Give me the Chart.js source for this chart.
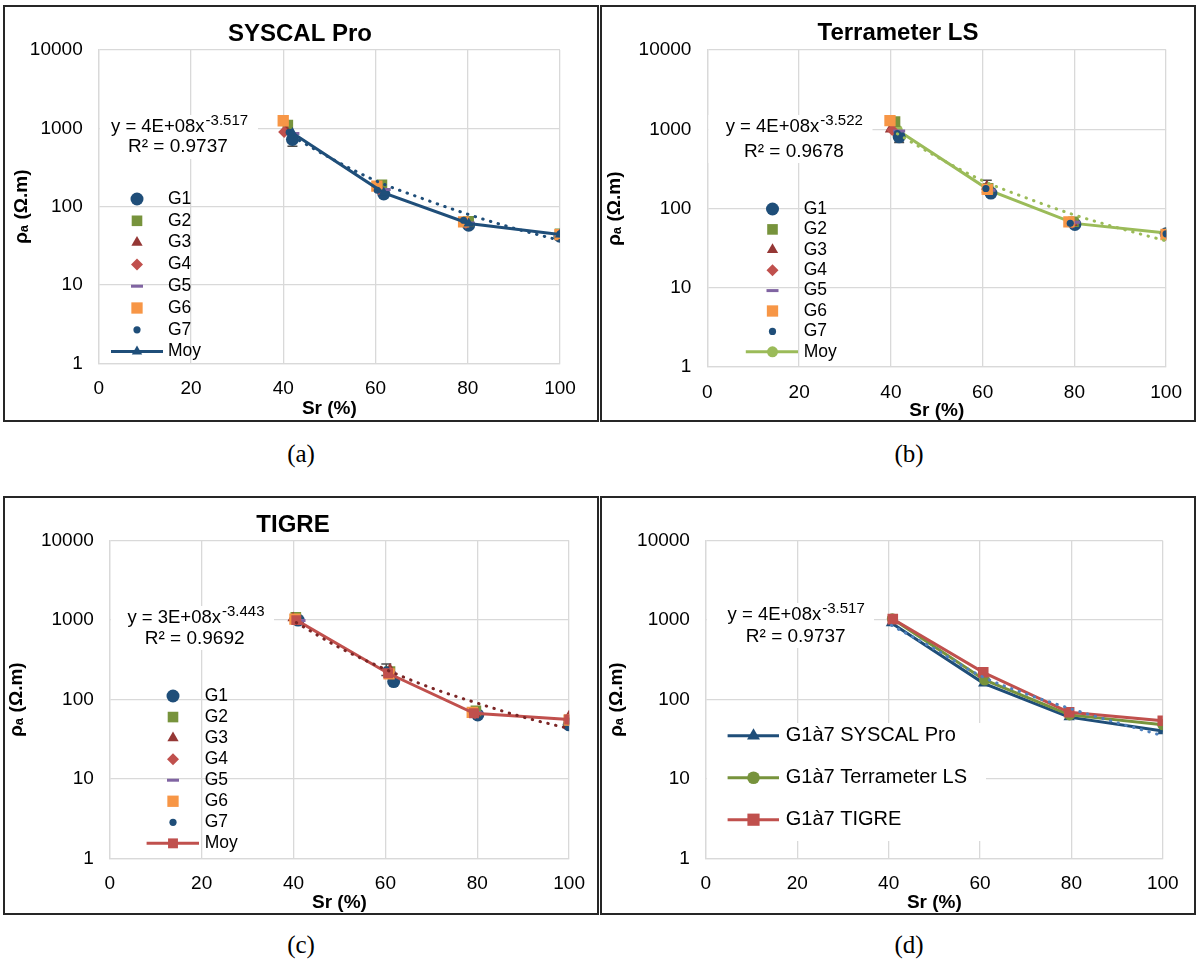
<!DOCTYPE html>
<html>
<head>
<meta charset="utf-8">
<script src="https://cdn.jsdelivr.net/npm/chart.js@4.4.1/dist/chart.umd.min.js"></script>
<style>
  body { margin: 0; background: #fff; width: 1197px; height: 967px; position: relative; overflow: hidden; }
  canvas { position: absolute; }
  .box { position: absolute; border: 2px solid #262626; box-sizing: border-box; pointer-events: none; }
  .cap { position: absolute; width: 80px; text-align: center; font-family: 'Liberation Serif', 'Times New Roman', serif; font-size: 25px; color: #000; }
</style>
</head>
<body>
<canvas id="ca" width="596" height="417" style="left:3px;top:5px"></canvas>
<canvas id="cb" width="596" height="417" style="left:600px;top:5px"></canvas>
<canvas id="cc" width="596" height="419" style="left:3px;top:496px"></canvas>
<canvas id="cd" width="596" height="419" style="left:600px;top:496px"></canvas>
<div class="box" style="left:3px;top:5px;width:596px;height:417px"></div>
<div class="box" style="left:600px;top:5px;width:596px;height:417px"></div>
<div class="box" style="left:3px;top:496px;width:596px;height:419px"></div>
<div class="box" style="left:600px;top:496px;width:596px;height:419px"></div>
<div class="cap" style="left:261px;top:440px">(a)</div>
<div class="cap" style="left:869px;top:440px">(b)</div>
<div class="cap" style="left:261px;top:931px">(c)</div>
<div class="cap" style="left:869px;top:931px">(d)</div>
<script>
const FONT = "'Liberation Sans', Arial, Helvetica, sans-serif";

// axis ticks
const srTicks = [0, 20, 40, 60, 80, 100];
const rhoTicks = [1, 10, 100, 1000, 10000];
const groupNames = ['G1', 'G2', 'G3', 'G4', 'G5', 'G6', 'G7'];

// (a) SYSCAL Pro - Sr (%) and rho_a (ohm.m) per group
const sysG1x = [42, 61.8, 80.2, 100];   const sysG1 = [720, 145, 58, 42];
const sysG2x = [41, 61.4, 80.2, 100];   const sysG2 = [1100, 190, 65, 45];
const sysG3x = [40.6, 61, 80, 100];     const sysG3 = [950, 168, 62, 43];
const sysG4x = [40.2, 60.8, 79.6, 100]; const sysG4 = [900, 165, 62, 43];
const sysG5x = [42.2, 62, 80.2, 100];   const sysG5 = [860, 166, 62, 44];
const sysG6x = [40, 60.3, 79.1, 100];   const sysG6 = [1250, 183, 64, 44];
const sysG7x = [41.3, 60.4, 79.1, 100]; const sysG7 = [890, 162, 67, 45];
const sysMoyX = [42, 61.8, 80.2, 100];  const sysMoy = [870, 150, 61, 44];
const sysTrendX = [42, 50, 60, 70, 80, 90, 100];
const sysTrend = [790, 425, 215, 128, 80, 53, 37];
const sysErrX = [42];   const sysErrLo = [590];   const sysErrHi = [880];

// (b) Terrameter LS
const terG1x = [41.8, 61.8, 80.1, 100]; const terG1 = [805, 157, 63, 48];
const terG2x = [40.9, 61.2, 79.8, 100]; const terG2 = [1250, 180, 68, 47];
const terG3x = [39.9, 60.9, 79.5, 100]; const terG3 = [1000, 191, 66, 45];
const terG4x = [40.3, 61, 79.5, 100];   const terG4 = [980, 175, 66, 46];
const terG5x = [41.8, 61.5, 80, 100];   const terG5 = [950, 170, 67, 47];
const terG6x = [39.8, 61, 78.8, 100];   const terG6 = [1285, 175, 68, 47];
const terG7x = [41.4, 60.7, 79.1, 100]; const terG7 = [880, 179, 65, 48];
const terMoyX = [41.4, 61.5, 80, 100];  const terMoy = [980, 170, 65, 49];
const terTrendX = [41.4, 50, 60, 70, 80, 90, 100];
const terTrend = [880, 450, 225, 133, 83, 56, 39];
const terErrX = [41.8, 60.9]; const terErrLo = [680, 160]; const terErrHi = [950, 228];

// (c) TIGRE
const tigG1x = [41, 61.8, 80.1, 100];   const tigG1 = [1000, 168, 64, 48];
const tigG2x = [40.5, 61, 79.7, 100];   const tigG2 = [1085, 225, 72, 55];
const tigG3x = [39.9, 61, 79.5, 100];   const tigG3 = [1060, 240, 67, 62];
const tigG4x = [40.2, 61, 79.5, 100];   const tigG4 = [1020, 220, 67, 56];
const tigG5x = [41.3, 61, 79.8, 100];   const tigG5 = [990, 215, 68, 55];
const tigG6x = [40.3, 60.8, 78.9, 100]; const tigG6 = [1030, 210, 69, 55];
const tigG7x = [40.5, 60.2, 79, 100];   const tigG7 = [1010, 236, 68, 54];
const tigMoyX = [40.6, 60.6, 79.3, 100]; const tigMoy = [1000, 214, 67, 56];
const tigTrendX = [40.6, 50, 60, 70, 80, 90, 100];
const tigTrend = [930, 450, 240, 140, 90, 60, 43];
const tigErrX = [60.2]; const tigErrLo = [200]; const tigErrHi = [280];

// (d) G1 to G7 averages per instrument
const allSysX = [40.6, 60.8, 79.5, 100]; const allSys = [920, 160, 60, 40];
const allTerX = [40.8, 61, 79.6, 100];   const allTer = [1040, 176, 64, 48];
const allTigX = [40.9, 60.7, 79.5, 100]; const allTig = [1030, 220, 69, 54];
const allTrendX = [40.6, 50, 60, 70, 80, 90, 100];
const allTrend = [860, 435, 200, 118, 76, 51, 35];

function pts(xs, ys) { return xs.map((x, i) => ({ x: x, y: ys[i] })); }

const groupStyle = [
  { pointStyle: 'circle', radius: 6.5, color: '#1F4E79', bw: 0 },
  { pointStyle: 'rect', radius: 7.5, color: '#77933C', bw: 0 },
  { pointStyle: 'triangle', radius: 6.5, color: '#953735', bw: 0 },
  { pointStyle: 'rectRot', radius: 6, color: '#C0504D', bw: 0 },
  { pointStyle: 'line', radius: 6, color: '#8064A2', bw: 3 },
  { pointStyle: 'rect', radius: 8, color: '#F79646', bw: 0 },
  { pointStyle: 'circle', radius: 3.6, color: '#1F4E79', bw: 0 }
];

function groupSet(i, xs, ys) {
  const s = groupStyle[i];
  return {
    label: groupNames[i], data: pts(xs, ys), showLine: false,
    pointStyle: s.pointStyle, pointRadius: s.radius, pointHoverRadius: s.radius,
    pointBackgroundColor: s.color, pointBorderColor: s.color, pointBorderWidth: s.bw,
    order: 20 - i
  };
}

function lineSet(label, xs, ys, color, style, radius, order) {
  return {
    label: label, data: pts(xs, ys), showLine: true, borderColor: color, borderWidth: 3,
    pointStyle: style, pointRadius: radius, pointHoverRadius: radius,
    pointBackgroundColor: color, pointBorderColor: color, pointBorderWidth: 0, order: order
  };
}

function trendSet(xs, ys, color) {
  return {
    label: 'trend', data: pts(xs, ys), showLine: true, borderColor: color, borderWidth: 3,
    borderDash: [0.5, 7.5], borderCapStyle: 'round', pointRadius: 0, pointHoverRadius: 0,
    cubicInterpolationMode: 'monotone', order: 1, noLegend: true
  };
}

function makeChart(p) {
  const overlay = {
    id: 'overlay',
    beforeDatasetsDraw(chart) {
      const ctx = chart.ctx;
      const xs = chart.scales.x, ys = chart.scales.y;
      ctx.save();
      // chart title, centred on the panel
      if (p.title) {
        ctx.fillStyle = '#000';
        ctx.textAlign = 'center';
        ctx.textBaseline = 'middle';
        ctx.font = 'bold 24px ' + FONT;
        ctx.fillText(p.title, p.titleX, p.titleY);
      }
      // error bars
      ctx.strokeStyle = '#4d4d4d';
      ctx.lineWidth = 1.5;
      p.err[0].forEach((x, i) => {
        const px = xs.getPixelForValue(x);
        const lo = ys.getPixelForValue(p.err[1][i]);
        const hi = ys.getPixelForValue(p.err[2][i]);
        ctx.beginPath();
        ctx.moveTo(px, lo); ctx.lineTo(px, hi);
        ctx.moveTo(px - 5, lo); ctx.lineTo(px + 5, lo);
        ctx.moveTo(px - 5, hi); ctx.lineTo(px + 5, hi);
        ctx.stroke();
      });
      // trendline equation
      const e = p.eq;
      ctx.fillStyle = '#fff';
      ctx.fillRect(e.box[0], e.box[1], e.box[2], e.box[3]);
      ctx.fillStyle = '#000';
      ctx.textBaseline = 'middle';
      ctx.textAlign = 'left';
      ctx.font = '18.5px ' + FONT;
      ctx.fillText(e.main, e.x1, e.y1);
      const w = ctx.measureText(e.main).width;
      ctx.font = '15px ' + FONT;
      ctx.fillText(e.sup, e.x1 + w + 1, e.y1 - 6);
      ctx.font = '19px ' + FONT;
      ctx.fillText(e.r2, e.x2, e.y2);
      // legend inside plot
      const l = p.leg;
      if (l.box) {
        ctx.fillStyle = '#fff';
        ctx.fillRect(l.box[0], l.box[1], l.box[2], l.box[3]);
      }
      let k = 0;
      chart.data.datasets.forEach(ds => {
        if (ds.noLegend) return;
        const y = l.y0 + k * l.dy;
        k++;
        if (ds.showLine) {
          ctx.strokeStyle = ds.borderColor;
          ctx.lineWidth = ds.borderWidth;
          ctx.beginPath();
          ctx.moveTo(l.lineFrom, y); ctx.lineTo(l.lineTo, y);
          ctx.stroke();
        }
        ctx.fillStyle = ds.pointBackgroundColor;
        ctx.strokeStyle = ds.pointBorderColor;
        ctx.lineWidth = ds.pointBorderWidth;
        Chart.helpers.drawPoint(ctx, {
          pointStyle: ds.pointStyle, radius: ds.pointRadius * (l.scale || 1),
          borderWidth: ds.pointBorderWidth, rotation: 0
        }, l.markerX, y);
        ctx.fillStyle = '#000';
        ctx.font = l.font + 'px ' + FONT;
        ctx.fillText(ds.label, l.textX, y);
      });
      ctx.restore();
    }
  };

  new Chart(document.getElementById(p.canvas), {
    type: 'scatter',
    data: { datasets: p.datasets },
    options: {
      responsive: false,
      animation: false,
      events: [],
      layout: { padding: { left: 0, right: p.w - p.R, top: p.T, bottom: 0 } },
      plugins: {
        legend: { display: false },
        tooltip: { enabled: false },
        title: { display: false }
      },
      scales: {
        x: {
          type: 'linear', min: 0, max: 100,
          afterBuildTicks: s => { s.ticks = srTicks.map(v => ({ value: v })); },
          afterFit: s => { s.height = p.h - p.B; },
          grid: { color: '#D9D9D9', lineWidth: 1.3, drawTicks: false },
          border: { color: '#D9D9D9', width: 1.3 },
          ticks: { color: '#000', padding: 14, font: { family: FONT, size: 19 } },
          title: {
            display: true, text: 'Sr (%)', color: '#000',
            font: { family: FONT, size: 19, weight: 'bold' },
            padding: { top: 0, bottom: p.xTitlePad }
          }
        },
        y: {
          type: 'logarithmic', min: 1, max: 10000,
          afterBuildTicks: s => { s.ticks = rhoTicks.map(v => ({ value: v, major: true })); },
          afterFit: s => { s.width = p.L; },
          grid: { color: '#D9D9D9', lineWidth: 1.3, drawTicks: false },
          border: { color: '#D9D9D9', width: 1.3 },
          ticks: { color: '#000', padding: 16, font: { family: FONT, size: 19 }, callback: v => String(v) },
          title: {
            display: true, text: 'ρₐ (Ω.m)', color: '#000',
            font: { family: FONT, size: 19, weight: 'bold' },
            padding: { top: p.yTitleX - 11.4, bottom: 0 }
          }
        }
      }
    },
    plugins: [overlay]
  });
}

function groupSets(list) { return list.map((g, i) => groupSet(i, g[0], g[1])); }

makeChart({
  canvas: 'ca', w: 596, h: 417, L: 95.7, R: 557, T: 45, B: 358.3,
  title: 'SYSCAL Pro', titleX: 297, titleY: 29, yTitleX: 18.7, xTitlePad: 2,
  datasets: groupSets([[sysG1x, sysG1], [sysG2x, sysG2], [sysG3x, sysG3], [sysG4x, sysG4],
    [sysG5x, sysG5], [sysG6x, sysG6], [sysG7x, sysG7]]).concat([
    lineSet('Moy', sysMoyX, sysMoy, '#1F4E79', 'triangle', 6, 2),
    trendSet(sysTrendX, sysTrend, '#1F4E79')]),
  err: [sysErrX, sysErrLo, sysErrHi],
  eq: { main: 'y = 4E+08x', sup: '-3.517', r2: 'R² = 0.9737', x1: 108, y1: 122, x2: 125, y2: 142, box: [97, 110, 158, 44] },
  leg: { markerX: 134, textX: 165, y0: 194, dy: 21.8, lineFrom: 108, lineTo: 160, font: 17.5 }
});

makeChart({
  canvas: 'cb', w: 596, h: 417, L: 107.4, R: 566.6, T: 45.1, B: 362,
  title: 'Terrameter LS', titleX: 298, titleY: 28, yTitleX: 15, xTitlePad: 0,
  datasets: groupSets([[terG1x, terG1], [terG2x, terG2], [terG3x, terG3], [terG4x, terG4],
    [terG5x, terG5], [terG6x, terG6], [terG7x, terG7]]).concat([
    lineSet('Moy', terMoyX, terMoy, '#9BBB59', 'circle', 5.5, 22),
    trendSet(terTrendX, terTrend, '#9BBB59')]),
  err: [terErrX, terErrLo, terErrHi],
  eq: { main: 'y = 4E+08x', sup: '-3.522', r2: 'R² = 0.9678', x1: 125.7, y1: 122, x2: 144, y2: 147, box: [108.5, 110, 164, 48] },
  leg: { markerX: 172.5, textX: 203.7, y0: 204, dy: 20.4, lineFrom: 145.8, lineTo: 198, font: 17.5 }
});

makeChart({
  canvas: 'cc', w: 596, h: 419, L: 106.8, R: 566.5, T: 44.7, B: 362.3,
  title: 'TIGRE', titleX: 290, titleY: 29, yTitleX: 14, xTitlePad: 1,
  datasets: groupSets([[tigG1x, tigG1], [tigG2x, tigG2], [tigG3x, tigG3], [tigG4x, tigG4],
    [tigG5x, tigG5], [tigG6x, tigG6], [tigG7x, tigG7]]).concat([
    lineSet('Moy', tigMoyX, tigMoy, '#C0504D', 'rect', 7, 2),
    trendSet(tigTrendX, tigTrend, '#7B2626')]),
  err: [tigErrX, tigErrLo, tigErrHi],
  eq: { main: 'y = 3E+08x', sup: '-3.443', r2: 'R² = 0.9692', x1: 124.4, y1: 121.7, x2: 141.7, y2: 142.3, box: [108, 110, 163, 44] },
  leg: { markerX: 170, textX: 201.7, y0: 200, dy: 21.05, lineFrom: 143.6, lineTo: 196, font: 17.5 }
});

makeChart({
  canvas: 'cd', w: 596, h: 419, L: 105.9, R: 562.8, T: 44.7, B: 362.3,
  title: '', titleX: 0, titleY: 0, yTitleX: 17, xTitlePad: 1,
  datasets: [
    lineSet('G1à7 SYSCAL Pro', allSysX, allSys, '#1F4E79', 'triangle', 6.5, 4),
    lineSet('G1à7 Terrameter LS', allTerX, allTer, '#77933C', 'circle', 5.5, 3),
    lineSet('G1à7 TIGRE', allTigX, allTig, '#C0504D', 'rect', 7.5, 2),
    trendSet(allTrendX, allTrend, '#4F81BD')],
  err: [[], [], []],
  eq: { main: 'y = 4E+08x', sup: '-3.517', r2: 'R² = 0.9737', x1: 127.6, y1: 119, x2: 145.8, y2: 140.7, box: [107, 107, 167, 45] },
  leg: { markerX: 153.5, textX: 185.8, y0: 239.7, dy: 42, lineFrom: 127.6, lineTo: 179, font: 20, box: [107, 227, 279, 118], scale: 1.15 }
});
</script>
</body>
</html>
